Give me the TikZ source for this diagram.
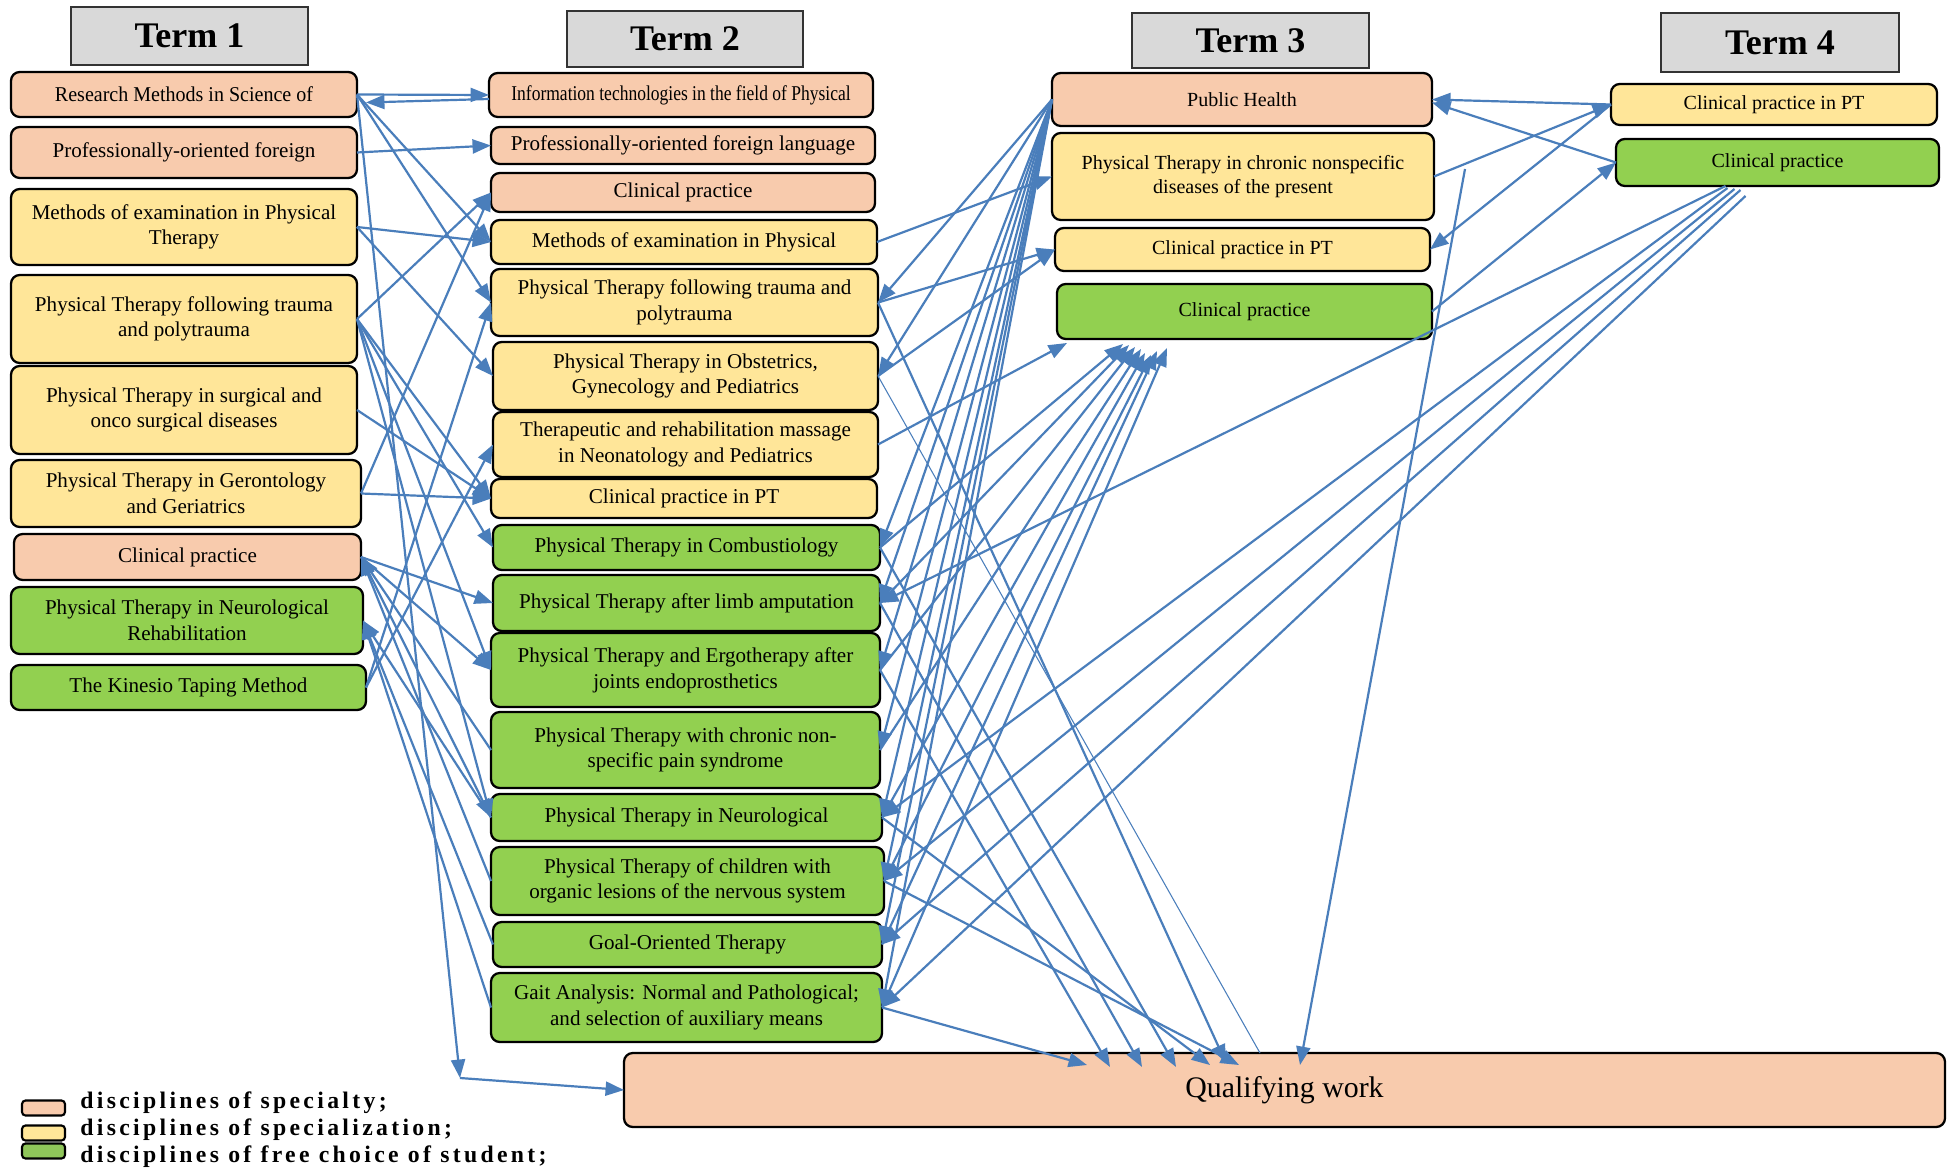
\documentclass[tikz,border=0pt]{standalone}
\usepackage{fontspec}
\setmainfont{Liberation Serif}
\usetikzlibrary{arrows.meta,calc}
\definecolor{salm}{HTML}{F8CBAD}
\definecolor{yel}{HTML}{FFE699}
\definecolor{grn}{HTML}{92D050}
\definecolor{lgrn}{HTML}{8FC65A}
\definecolor{hdr}{HTML}{D9D9D9}
\definecolor{lnk}{HTML}{4A7EBB}
\newcommand\mybox[7]{\node[box,#6,minimum width={(#4-#2)*0.02cm},minimum height={(#5-#3)*0.02cm}] (#1) at ({(#2+#4)/2},{(#3+#5)/2}) {#7};}
\newcommand\myhdr[6]{\node[hbox,minimum width={(#4-#2)*0.02cm},minimum height={(#5-#3)*0.02cm}] (#1) at ({(#2+#4)/2},{(#3+#5)/2}) {#6};}
\begin{document}
\begin{tikzpicture}[x=0.02cm,y=-0.02cm,
  box/.style={draw=black,line width=1.3pt,rounded corners=5pt,inner sep=0pt,outer sep=0pt,align=center,font=\fontsize{12}{14.6}\selectfont},
  sm/.style={font=\fontsize{11.4}{14}\selectfont},
  hbox/.style={draw=black!80,fill=hdr,line width=1.6pt,inner sep=0pt,outer sep=0pt,font=\fontsize{20.5}{24}\selectfont\bfseries},
  ar/.style={draw=lnk,line width=1.25pt,-{Triangle[length=10.5pt,width=8pt]}},
  thinln/.style={draw=lnk,line width=0.6pt},
  legbox/.style={draw=black,line width=1.2pt,rounded corners=2pt,minimum width={43*0.02cm},minimum height={15*0.02cm},inner sep=0pt},
  legtext/.style={anchor=west,inner sep=0pt,font=\fontsize{13.5}{16}\selectfont\bfseries\addfontfeature{LetterSpace=14}}]
\useasboundingbox[fill=white] (0,0) rectangle (1950,1172);

% headers
\myhdr{h1}{71}{7}{308}{65}{Term 1}
\myhdr{h2}{567}{11}{803}{67}{Term 2}
\myhdr{h3}{1132}{13}{1369}{68}{Term 3}
\myhdr{h4}{1661}{13}{1899}{72}{Term 4}

% column 1
\mybox{rm}{11}{72}{357}{117}{fill=salm}{\scalebox{0.95}[1]{Research Methods in Science of}}
\mybox{pf}{11}{127}{357}{178}{fill=salm}{Professionally-oriented foreign}
\mybox{me1}{11}{189}{357}{265}{fill=yel}{Methods of examination in Physical\\Therapy}
\mybox{tr1}{11}{275}{357}{363}{fill=yel}{Physical Therapy following trauma\\and polytrauma}
\mybox{su1}{11}{366}{357}{454}{fill=yel}{Physical Therapy in surgical and\\onco surgical diseases}
\mybox{ge1}{11}{460}{361}{527}{fill=yel}{Physical Therapy in Gerontology\\and Geriatrics}
\mybox{cp1}{14}{534}{361}{580}{fill=salm}{Clinical practice}
\mybox{nr1}{11}{587}{363}{654}{fill=grn}{Physical Therapy in Neurological\\Rehabilitation}
\mybox{ki1}{11}{665}{366}{710}{fill=grn}{The Kinesio Taping Method}

% column 2
\mybox{it2}{489}{73}{873}{117}{fill=salm}{\scalebox{0.83}[1]{Information technologies in the field of Physical}}
\mybox{pl2}{491}{127}{875}{164}{fill=salm}{Professionally-oriented foreign language}
\mybox{cp2}{491}{173}{875}{212}{fill=salm}{Clinical practice}
\mybox{me2}{491}{220}{877}{264}{fill=yel}{Methods of examination in Physical}
\mybox{tr2}{491}{269}{878}{336}{fill=yel}{Physical Therapy following trauma and\\polytrauma}
\mybox{ob2}{493}{342}{878}{410}{fill=yel}{Physical Therapy in Obstetrics,\\Gynecology and Pediatrics}
\mybox{ma2}{493}{412}{878}{477}{fill=yel}{Therapeutic and rehabilitation massage\\in Neonatology and Pediatrics}
\mybox{pt2}{491}{479}{877}{518}{fill=yel}{Clinical practice in PT}
\mybox{co2}{493}{525}{880}{570}{fill=grn}{Physical Therapy in Combustiology}
\mybox{li2}{493}{575}{880}{631}{fill=grn}{Physical Therapy after limb amputation}
\mybox{er2}{491}{633}{880}{707}{fill=grn}{Physical Therapy and Ergotherapy after\\joints endoprosthetics}
\mybox{ch2}{491}{712}{880}{788}{fill=grn}{Physical Therapy with chronic non-\\specific pain syndrome}
\mybox{ne2}{491}{794}{882}{841}{fill=grn}{Physical Therapy in Neurological}
\mybox{ki2}{491}{847}{884}{915}{fill=grn}{Physical Therapy of children with\\organic lesions of the nervous system}
\mybox{go2}{493}{922}{882}{967}{fill=grn}{Goal-Oriented Therapy}
\mybox{ga2}{491}{973}{882}{1042}{fill=grn}{Gait Analysis: Normal and Pathological;\\and selection of auxiliary means}

% column 3
\mybox{ph3}{1052}{73}{1432}{126}{fill=salm,sm}{Public Health}
\mybox{cn3}{1052}{133}{1434}{220}{fill=yel,sm}{Physical Therapy in chronic nonspecific\\diseases of the present}
\mybox{pt3}{1055}{228}{1430}{271}{fill=yel,sm}{Clinical practice in PT}
\mybox{cg3}{1057}{284}{1432}{339}{fill=grn,sm}{Clinical practice}

% column 4
\mybox{pt4}{1611}{84}{1937}{125}{fill=yel,sm}{Clinical practice in PT}
\mybox{cg4}{1616}{139}{1939}{186}{fill=grn,sm}{Clinical practice}

% qualifying work
\mybox{qw}{624}{1053}{1945}{1127}{fill=salm,font=\fontsize{17}{20}\selectfont}{Qualifying work}

\coordinate (qwp) at (460,1078);
\coordinate (qtop) at (1465,169);

% column 1 -> column 2
\draw[ar] (rm.east) -- (it2.west);
\draw[ar] ($(it2.west)+(0,4)$) -- ($(rm.east)+(9,8)$);
\draw[ar] (rm.east) -- (me2.west);
\draw[ar] (rm.east) -- (tr2.west);
\draw[ar] (rm.east) -- (qwp);
\draw[ar] (qwp) -- (qw.west);
\draw[ar] (pf.east) -- (pl2.west);
\draw[ar] (me1.east) -- (me2.west);
\draw[ar] (me1.east) -- (ob2.west);
\draw[ar] (tr1.east) -- (cp2.west);
\draw[ar] (tr1.east) -- (pt2.west);
\draw[ar] (tr1.east) -- (co2.west);
\draw[ar] (tr1.east) -- (er2.west);
\draw[ar] (tr1.east) -- (ne2.west);
\draw[ar] (su1.east) -- (pt2.west);
\draw[ar] (ge1.east) -- (pt2.west);
\draw[ar] (ge1.east) -- (cp2.west);
\draw[ar] (ki1.east) -- (tr2.west);
\draw[ar] (ki1.east) -- (ma2.west);
\draw[ar] (cp1.east) -- (li2.west);
\draw[ar] (cp1.east) -- (er2.west);
\draw[ar] (cp1.east) -- (ne2.west);
\draw[ar] (ch2.west) -- (cp1.east);
\draw[ar] (ki2.west) -- (cp1.east);
\draw[ar] (ne2.west) -- (nr1.east);
\draw[ar] (go2.west) -- (nr1.east);
\draw[ar] (ga2.west) -- (nr1.east);

% column 2 -> column 3
\draw[ar] (me2.east) -- (cn3.west);
\draw[ar] (tr2.east) -- (pt3.west);
\draw[ar] (ob2.east) -- (pt3.west);
\draw[ar] (ma2.east) -- ($(cg3.south west)+(10,4)$);
\foreach \n in {tr2,ob2,co2,li2,er2,ch2,ne2,ki2,go2,ga2}
  \draw[ar] (ph3.west) -- (\n.east);
\foreach \n/\o/\d in {co2/66/5,li2/72/6,er2/78/8,ch2/84/10,ne2/88/14,ki2/94/16,go2/100/12,ga2/110/9}
  \draw[ar] (\n.east) -- ($(cg3.south west)+(\o,\d)$);

% column 2 -> qualifying work
\draw[ar] (ga2.east) -- ($(qw.north west)+(463,12)$);
\draw[ar] (er2.east) -- ($(qw.north west)+(486,14)$);
\draw[ar] (li2.east) -- ($(qw.north west)+(518,14)$);
\draw[ar] (co2.east) -- ($(qw.north west)+(552,14)$);
\draw[ar] (ne2.east) -- ($(qw.north west)+(586,12)$);
\draw[ar] (tr2.east) -- ($(qw.north west)+(602,10)$);
\draw[ar] (ki2.east) -- ($(qw.north west)+(615,12)$);
\draw[thinln] (ob2.east) -- ($(qw.north west)+(636,0)$);
\draw[ar] (qtop) -- ($(qw.north west)+(676,12)$);

% columns 3 and 4
\draw[ar] (pt4.west) -- (ph3.east);
\draw[ar] (cg4.west) -- ($(ph3.east)+(0,3)$);
\draw[ar] (cn3.east) -- (pt4.west);
\draw[ar] (pt4.west) -- (pt3.east);
\draw[ar] (cg3.east) -- (cg4.west);
\draw[ar] ($(cg4.south)+(-52,0)$) -- (li2.east);
\draw[ar] ($(cg4.south)+(-50,2)$) -- (ne2.east);
\draw[ar] ($(cg4.south)+(-43,3)$) -- (ki2.east);
\draw[ar] ($(cg4.south)+(-37,4)$) -- (go2.east);
\draw[ar] ($(cg4.south)+(-32,10)$) -- (ga2.east);

% legend
\node[legbox,fill=salm] (lb1) at (43.5,1108) {};
\node[legbox,fill=yel] (lb2) at (43.5,1133) {};
\node[legbox,fill=lgrn] (lb3) at (43.5,1151) {};
\node[legtext] (lt1) at (80,1103) {disciplines of specialty;};
\node[legtext] (lt2) at (80,1130) {disciplines of specialization;};
\node[legtext] (lt3) at (80,1157) {disciplines of free choice of student;};
\end{tikzpicture}
\end{document}
